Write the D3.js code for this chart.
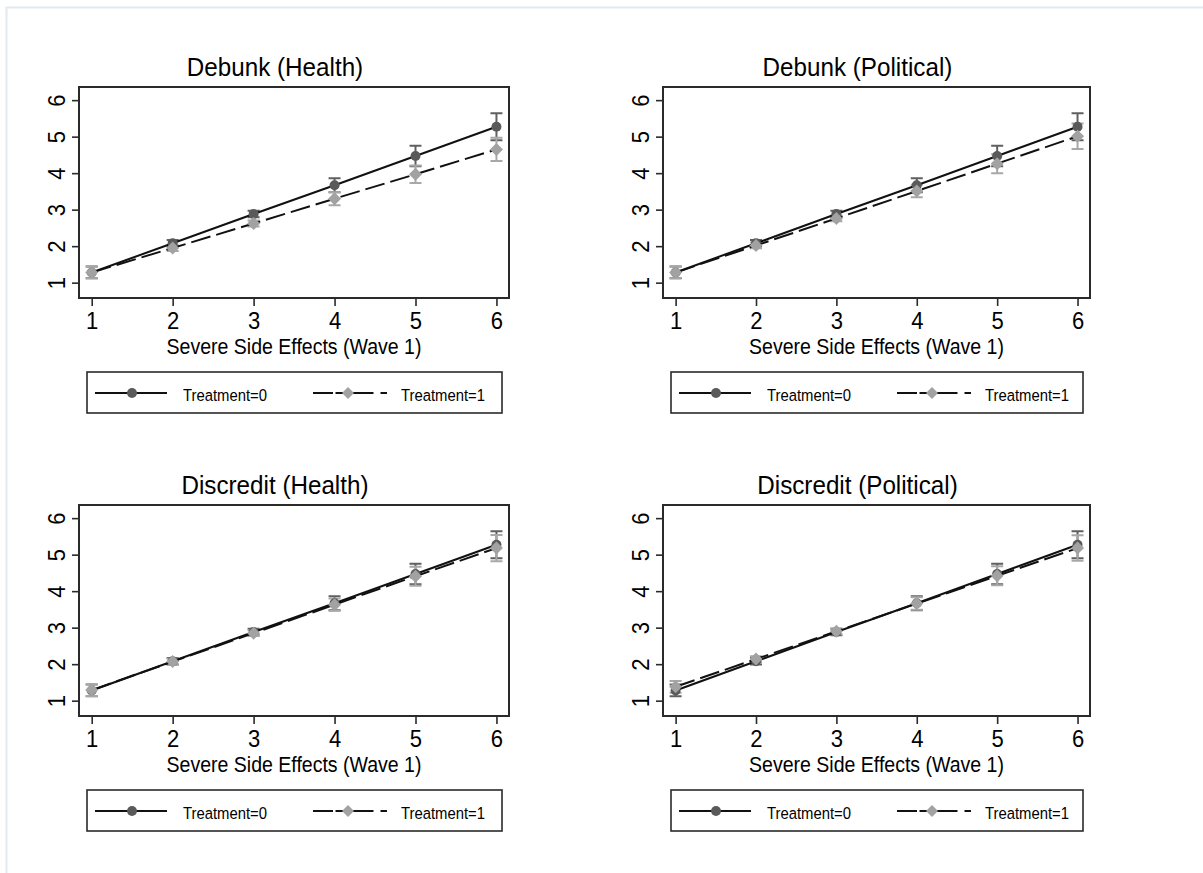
<!DOCTYPE html>
<html>
<head>
<meta charset="utf-8">
<script src="https://cdn.jsdelivr.net/npm/d3@7"></script>
<style>
  html, body { margin: 0; padding: 0; background: #fff; }
  svg { display: block; }
  text { font-family: "Liberation Sans", Arial, Helvetica, sans-serif; fill: #000; }
</style>
</head>
<body>
<svg id="chart" width="1203" height="873"></svg>
<script>
// Predicted values by wave-1 side-effect rating, with 95% CIs
const xCategories = [1, 2, 3, 4, 5, 6];
const yTickValues = [1, 2, 3, 4, 5, 6];
const seriesLabels = ["Treatment=0", "Treatment=1"];
const panelTitles = ["Debunk (Health)", "Debunk (Political)", "Discredit (Health)", "Discredit (Political)"];
const xAxisTitle = "Severe Side Effects (Wave 1)";

// Control group (same in every panel)
const controlMean = [1.28, 2.08, 2.88, 3.67, 4.47, 5.27];
const controlLow  = [1.12, 1.99, 2.79, 3.48, 4.19, 4.90];
const controlHigh = [1.44, 2.17, 2.97, 3.86, 4.75, 5.64];

// Treated groups
const debunkHealthMean = [1.28, 1.95, 2.62, 3.30, 3.97, 4.65];
const debunkHealthLow  = [1.12, 1.87, 2.54, 3.12, 3.73, 4.33];
const debunkHealthHigh = [1.44, 2.03, 2.70, 3.48, 4.21, 4.97];

const debunkPoliticalMean = [1.28, 2.02, 2.76, 3.51, 4.26, 5.01];
const debunkPoliticalLow  = [1.12, 1.94, 2.68, 3.34, 4.00, 4.66];
const debunkPoliticalHigh = [1.44, 2.10, 2.84, 3.68, 4.52, 5.36];

const discreditHealthMean = [1.29, 2.07, 2.85, 3.63, 4.41, 5.18];
const discreditHealthLow  = [1.13, 1.99, 2.77, 3.46, 4.15, 4.82];
const discreditHealthHigh = [1.45, 2.15, 2.93, 3.80, 4.67, 5.54];

const discreditPoliticalMean = [1.38, 2.14, 2.90, 3.66, 4.42, 5.18];
const discreditPoliticalLow  = [1.22, 2.06, 2.82, 3.49, 4.16, 4.83];
const discreditPoliticalHigh = [1.54, 2.22, 2.98, 3.83, 4.68, 5.53];

const treated = [
  { mean: debunkHealthMean, low: debunkHealthLow, high: debunkHealthHigh },
  { mean: debunkPoliticalMean, low: debunkPoliticalLow, high: debunkPoliticalHigh },
  { mean: discreditHealthMean, low: discreditHealthLow, high: discreditHealthHigh },
  { mean: discreditPoliticalMean, low: discreditPoliticalLow, high: discreditPoliticalHigh }
];

// Frame boxes of the four plot regions
const frames = [
  { x: 79,  y: 87,  w: 430, h: 211 },
  { x: 663, y: 87,  w: 427, h: 211 },
  { x: 79,  y: 505, w: 430, h: 211 },
  { x: 663, y: 505, w: 427, h: 211 }
];

const col0 = "#5a5a5a", col1 = "#a2a2a2";
const ciCol0 = "#606060", ciCol1 = "#a8a8a8";
const frameCol = "#2a2a2a";
const dashPattern = "20,6";
const legendDash = "20,2.5,38,7";
const narrow = 0.9;   // condensed glyph width

const svg = d3.select("#chart");

// outer light frame of the graph window
svg.append("path")
  .attr("d", "M6.5,873 L6.5,7.5 L1203,7.5")
  .attr("fill", "none").attr("stroke", "#e3e9ed").attr("stroke-width", 2);

function diamondPath(cx, cy, r) {
  return `M${cx},${cy - r}L${cx + r},${cy}L${cx},${cy + r}L${cx - r},${cy}Z`;
}

function label(parent, x, y, size, sx, anchor, str) {
  return parent.append("text")
    .attr("transform", `translate(${x},${y}) scale(${sx},1)`)
    .attr("text-anchor", anchor)
    .style("font-size", size + "px")
    .text(str);
}

frames.forEach((f, i) => {
  const g = svg.append("g");
  const x = d3.scaleLinear().domain([0.843, 6.155]).range([f.x, f.x + f.w]);
  const y = d3.scaleLinear().domain([0.58, 6.36]).range([f.y + f.h, f.y]);
  const cx = f.x + f.w / 2;

  // panel title
  label(g, cx - 19, f.y - 11, 25.5, 0.95, "middle", panelTitles[i]);

  // axes
  const xAxis = d3.axisBottom(x).tickValues(xCategories).tickSize(8).tickFormat(d3.format("d"));
  const gx = g.append("g").attr("transform", `translate(0,${f.y + f.h})`).call(xAxis);
  gx.select(".domain").remove();
  gx.selectAll(".tick line").attr("stroke", frameCol).attr("stroke-width", 1.6);
  gx.selectAll(".tick text")
    .attr("y", null).attr("dy", null)
    .attr("transform", `translate(0,31) scale(${narrow},1)`)
    .style("font-size", "24.5px").style("font-family", "Liberation Sans, Arial, sans-serif").attr("fill", "#000");

  const yAxis = d3.axisLeft(y).tickValues(yTickValues).tickSize(7).tickFormat(d3.format("d"));
  const gy = g.append("g").attr("transform", `translate(${f.x},0)`).call(yAxis);
  gy.select(".domain").remove();
  gy.selectAll(".tick line").attr("stroke", frameCol).attr("stroke-width", 1.6);
  gy.selectAll(".tick text")
    .attr("x", null).attr("dy", null)
    .attr("text-anchor", "middle")
    .attr("transform", `translate(-14,0) rotate(-90) scale(${narrow},1)`)
    .style("font-size", "24.5px").style("font-family", "Liberation Sans, Arial, sans-serif").attr("fill", "#000");

  // x axis title
  label(g, cx, f.y + f.h + 56, 21.7, narrow, "middle", xAxisTitle);

  const series = [
    { mean: controlMean, low: controlLow, high: controlHigh, mc: col0, cc: ciCol0, dash: null, sym: "circle" },
    { mean: treated[i].mean, low: treated[i].low, high: treated[i].high, mc: col1, cc: ciCol1, dash: dashPattern, sym: "diamond" }
  ];

  // confidence interval caps
  series.forEach(s => {
    const cg = g.append("g").attr("stroke", s.cc).attr("stroke-width", 2).attr("fill", "none");
    xCategories.forEach((xv, k) => {
      const px = x(xv), lo = y(s.low[k]), hi = y(s.high[k]);
      cg.append("path").attr("d", `M${px},${hi}L${px},${lo}M${px - 6},${hi}L${px + 6},${hi}M${px - 6},${lo}L${px + 6},${lo}`);
    });
  });

  // connected lines and markers
  series.forEach(s => {
    const pts = xCategories.map((xv, k) => [x(xv), y(s.mean[k])]);
    g.append("path")
      .attr("d", d3.line()(pts))
      .attr("fill", "none").attr("stroke", "#111").attr("stroke-width", 2)
      .attr("stroke-dasharray", s.dash);
    pts.forEach(p => {
      if (s.sym === "circle") {
        g.append("circle").attr("cx", p[0]).attr("cy", p[1]).attr("r", 5).attr("fill", s.mc);
      } else {
        g.append("path").attr("d", diamondPath(p[0], p[1], 6.5)).attr("fill", s.mc);
      }
    });
  });

  // plot frame
  g.append("rect")
    .attr("x", f.x).attr("y", f.y).attr("width", f.w).attr("height", f.h)
    .attr("fill", "none").attr("stroke", frameCol).attr("stroke-width", 2);

  // legend
  const lx = f.x + 8, ly = f.y + 285, lw = f.w - 15, lh = 41;
  const lg = g.append("g");
  lg.append("rect").attr("x", lx).attr("y", ly).attr("width", lw).attr("height", lh)
    .attr("fill", "#fff").attr("stroke", frameCol).attr("stroke-width", 1.6);
  const my = ly + 21;
  lg.append("path").attr("d", `M${lx + 8},${my}L${lx + 80},${my}`)
    .attr("stroke", "#111").attr("stroke-width", 2);
  lg.append("circle").attr("cx", lx + 45).attr("cy", my).attr("r", 5).attr("fill", col0);
  label(lg, lx + 96, my + 7.5, 16.5, narrow, "start", seriesLabels[0]);
  lg.append("path").attr("d", `M${lx + 226},${my}L${lx + 300},${my}`)
    .attr("stroke", "#111").attr("stroke-width", 2).attr("stroke-dasharray", legendDash);
  lg.append("path").attr("d", diamondPath(lx + 261, my, 6)).attr("fill", col1);
  label(lg, lx + 314, my + 7.5, 16.5, narrow, "start", seriesLabels[1]);
});
</script>
</body>
</html>
